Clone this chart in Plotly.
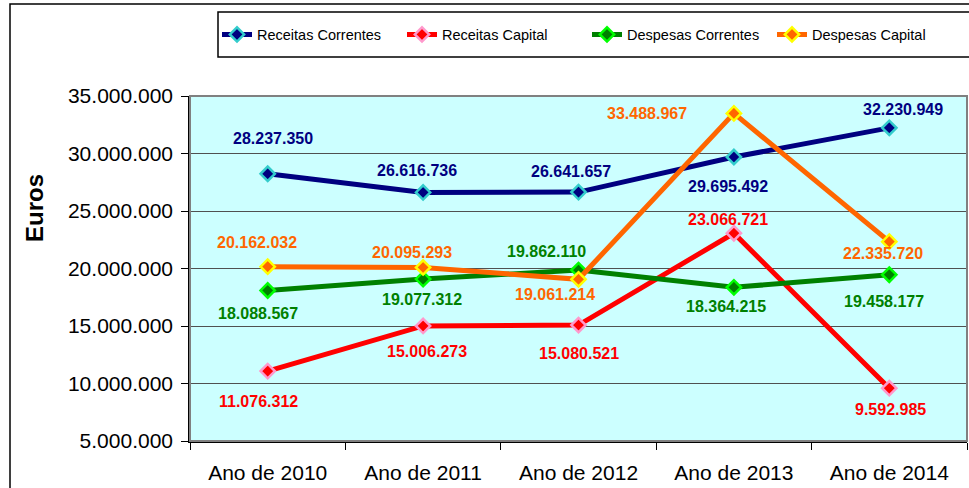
import plotly.graph_objects as go

categories = ["Ano de 2010", "Ano de 2011", "Ano de 2012", "Ano de 2013", "Ano de 2014"]
receitas_correntes = [28237350, 26616736, 26641657, 29695492, 32230949]
receitas_capital = [11076312, 15006273, 15080521, 23066721, 9592985]
despesas_correntes = [18088567, 19077312, 19862110, 18364215, 19458177]
despesas_capital = [20162032, 20095293, 19061214, 33488967, 22335720]
y_ticks = [5000000, 10000000, 15000000, 20000000, 25000000, 30000000, 35000000]

series = [
    ("Receitas Correntes", receitas_correntes),
    ("Receitas Capital", receitas_capital),
    ("Despesas Correntes", despesas_correntes),
    ("Despesas Capital", despesas_capital),
]

# styles: line colour, marker outline colour
styles = {
    "Receitas Correntes": ("#000080", "#33CCCC"),
    "Receitas Capital": ("#FF0000", "#FF99CC"),
    "Despesas Correntes": ("#008000", "#00FF00"),
    "Despesas Capital": ("#FF6600", "#FFFF00"),
}
# label pixel offsets (dx right, dy down) per point
label_offsets = {
    "Receitas Correntes": [(5, -35), (-6, -22), (-8, -21), (-6, 29), (14, -18)],
    "Receitas Capital": [(-9, 30), (4, 26), (0, 28), (-6, -14), (1, 21)],
    "Despesas Correntes": [(-10, 23), (-1, 20), (-32, -19), (-8, 19), (-5, 27)],
    "Despesas Capital": [(-11, -24), (-11, -15), (-24, 15), (-87, 0), (-6, 12)],
}

FONT = "Arial, 'Liberation Sans', sans-serif"

def fmt(v):
    return f"{v:,}".replace(",", ".")

fig = go.Figure()
annotations = []
for name, vals in series:
    lc, mc = styles[name]
    fig.add_trace(go.Scatter(
        x=categories, y=vals, name=name, mode="lines+markers",
        line=dict(color=lc, width=5),
        marker=dict(symbol="diamond", size=11, color=lc, line=dict(color=mc, width=2.5)),
    ))
    for c, v, (dx, dy) in zip(categories, vals, label_offsets[name]):
        annotations.append(dict(
            x=c, y=v, xref="x", yref="y", text=fmt(v), showarrow=False,
            xshift=dx, yshift=-dy,
            font=dict(family=FONT, size=16, color=lc, weight="bold"),
        ))

PW, PH = 777, 345
def px(x):
    return (x - 190) / PW
def py(y):
    return 1 + (96 - y) / PH

annotations.append(dict(
    x=px(34), y=py(208), xref="paper", yref="paper", text="<b>Euros</b>",
    xanchor="center", yanchor="middle",
    showarrow=False, textangle=-90,
    font=dict(family=FONT, size=24, color="black"),
))

shapes = [
    # outer chart border
    dict(type="rect", xref="paper", yref="paper", x0=px(10), x1=px(1100), y0=py(900), y1=py(4),
         line=dict(color="black", width=1.5), fillcolor="rgba(0,0,0,0)", layer="below"),
    # legend box
    dict(type="rect", xref="paper", yref="paper", x0=px(218), x1=px(1100), y0=py(57), y1=py(12),
         line=dict(color="black", width=1.5), fillcolor="rgba(0,0,0,0)"),
    # plot area border top/right
    dict(type="rect", xref="paper", yref="paper", x0=0, x1=1, y0=0, y1=1,
         line=dict(color="#808080", width=2), fillcolor="rgba(0,0,0,0)", layer="above"),
]

fig.update_layout(
    width=969, height=488,
    margin=dict(l=190, r=2, t=96, b=47),
    paper_bgcolor="white", plot_bgcolor="#CCFFFF",
    separators=",.",
    font=dict(family=FONT, color="black"),
    showlegend=True,
    legend=dict(
        orientation="h", x=px(217), y=py(34.5), xanchor="left", yanchor="middle",
        bgcolor="rgba(0,0,0,0)", borderwidth=0,
        entrywidth=140, entrywidthmode="pixels",
        font=dict(family=FONT, size=14.5, color="black"),
    ),
    xaxis=dict(
        type="category", range=[-0.5, 4.5], tickson="boundaries",
        ticks="outside", ticklen=7, tickcolor="black",
        showline=True, linecolor="black", linewidth=1.5,
        ticklabelstandoff=12,
        showgrid=False, tickfont=dict(family=FONT, size=21, color="black"),
    ),
    yaxis=dict(
        range=[5000000, 35000000], tickvals=y_ticks, tickformat=",d",
        ticks="outside", ticklen=7, tickcolor="black",
        showline=True, linecolor="black", linewidth=1.5,
        ticklabelstandoff=4,
        showgrid=True, gridcolor="#505050", gridwidth=1,
        zeroline=False, tickfont=dict(family=FONT, size=21, color="black"),
    ),
    annotations=annotations,
    shapes=shapes,
)

fig.write_html("out.html", config={"displayModeBar": False},
               post_script="document.body.style.margin='0';document.body.style.padding='0';")
